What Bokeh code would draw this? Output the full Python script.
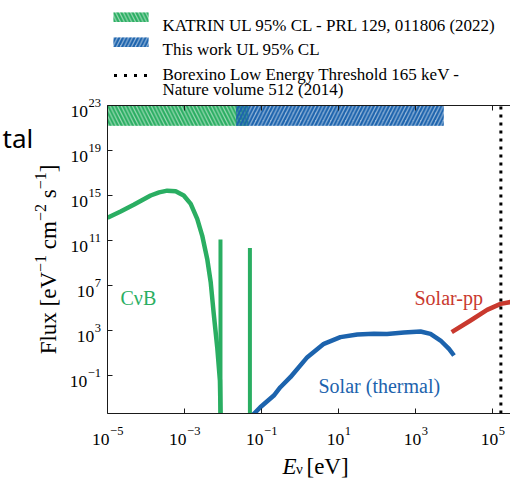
import math
from bokeh.plotting import figure
from bokeh.models import Range1d
from bokeh.core.properties import value
from bokeh.embed import file_html
from bokeh.resources import INLINE

# ---------------- data ----------------
cnub_E = [1.0e-5, 2.19e-5, 4.79e-5, 1.32e-4, 2.19e-4, 3.55e-4, 5.89e-4, 9.55e-4, 1.45e-3,
          2.14e-3, 2.88e-3, 3.89e-3, 4.79e-3, 5.75e-3, 7.08e-3, 8.32e-3, 8.7e-3]
cnub_flux = [1.05e13, 3.8e13, 1.48e14, 1.0e15, 1.9e15, 2.7e15, 2.4e15, 1.0e15, 1.8e14,
             8.5e12, 2.75e11, 2.3e9, 2.0e7, 3.0e4, 33.0, 0.036, 1e-5]
cnub_line_E = [8.6e-3, 5.0e-2]
cnub_line_top = [1.26e11, 2.2e10]

thermal_E = [6.0e-2, 9.3e-2, 0.209, 0.309, 0.562, 1.55, 4.17, 11.2, 30.9, 83.2,
             182.0, 501.0, 1350.0, 2450.0, 4470.0, 7410.0, 1.0e4]
thermal_flux = [3.2e-5, 1.5e-4, 1.66e-3, 9.1e-3, 7.1e-2, 4.3, 66.0, 257.0, 437.0, 525.0,
                501.0, 661.0, 813.0, 501.0, 129.0, 23.4, 6.0]

pp_E = [8710.0, 2.69e4, 7.24e4, 1.62e5, 3.16e5]
pp_flux = [708.0, 7760.0, 6.9e4, 2.34e5, 3.55e5]

katrin_E = [1.0e-5, 0.046]
katrin_flux = [1.6e21, 1.0e23]
this_work_E = [0.022, 5.4e3]
this_work_flux = [1.6e21, 1.0e23]

borexino_threshold_E = 165e3

x_ticks = [1e-5, 1e-3, 1e-1, 1e1, 1e3, 1e5]
x_tick_exponents = ["\u22125", "\u22123", "\u22121", "1", "3", "5"]
y_ticks = [1e-1, 1e3, 1e7, 1e11, 1e15, 1e19, 1e23]
y_tick_exponents = ["\u22121", "3", "7", "11", "15", "19", "23"]
x_lim = [1e-5, 2.934e5]
y_lim = [4.2e-5, 1e23]

legend_labels = ["KATRIN UL 95% CL - PRL 129, 011806 (2022)",
                 "This work UL 95% CL",
                 "Borexino Low Energy Threshold 165 keV -",
                 "Nature volume 512 (2014)"]

GREEN = "#2aae62"
BLUE = "#1c63ad"
RED = "#c9392e"
SERIF = "Liberation Serif"

# ---------------- geometry (pixels) ----------------
W, H = 510, 479
PL, PT, PB = 107, 105, 413          # plot-area edges; right edge = W
lx0, lx1 = math.log10(x_lim[0]), math.log10(x_lim[1])
ly0, ly1 = math.log10(y_lim[0]), math.log10(y_lim[1])
xppd = (W - PL) / (lx1 - lx0)
yppd = (PB - PT) / (ly1 - ly0)
X0 = 10 ** (lx0 - PL / xppd)
Y1 = 10 ** (ly1 + PT / yppd)
Y0 = 10 ** (ly0 - (H - PB) / yppd)


def X(px):
    return 10 ** (lx0 + (px - PL) / xppd)


def Y(py):
    return 10 ** (ly1 - (py - PT) / yppd)


def dx(v, px):
    return v * 10 ** (px / xppd)


def dy(v, px):  # px > 0 moves down
    return v * 10 ** (-px / yppd)


TIMES_W = {'F': .556, 'l': .278, 'u': .5, 'x': .5, ' ': .25, '[': .333, 'e': .444, 'V': .722,
           'c': .444, 'm': .778, 's': .389, ']': .333, '\u2212': .564}


def tw(s, size):
    return sum(TIMES_W.get(ch, .5) for ch in s) * size


p = figure(width=W, height=H, output_backend="svg", toolbar_location=None, title=None,
           x_axis_type="log", y_axis_type="log", x_axis_location=None, y_axis_location=None,
           x_range=Range1d(X0, x_lim[1]), y_range=Range1d(Y0, Y1),
           min_border=0, outline_line_color=None, background_fill_color="white",
           border_fill_color="white")
p.grid.visible = False

# ---- hatched upper-limit bands ----
band_kw = dict(fill_alpha=0.45, line_color=None, hatch_scale=7.5, hatch_weight=2.2)
p.quad(left=[katrin_E[0]], right=[katrin_E[1]], bottom=[katrin_flux[0]], top=[katrin_flux[1]],
       fill_color=GREEN, hatch_pattern="left_diagonal_line", hatch_color=GREEN, **band_kw)
p.quad(left=[this_work_E[0]], right=[this_work_E[1]], bottom=[this_work_flux[0]],
       top=[this_work_flux[1]], fill_color=BLUE, hatch_pattern="right_diagonal_line",
       hatch_color=BLUE, **band_kw)

# ---- spectra ----
p.line(cnub_E, cnub_flux, line_color=GREEN, line_width=4.5, line_join="round")
p.segment(x0=cnub_line_E, y0=[y_lim[0]] * len(cnub_line_E), x1=cnub_line_E, y1=cnub_line_top,
          line_color=GREEN, line_width=4)
p.line(thermal_E, thermal_flux, line_color=BLUE, line_width=4.5, line_join="round")
p.line(pp_E, pp_flux, line_color=RED, line_width=4.5, line_join="round")
p.segment(x0=[borexino_threshold_E], y0=[y_lim[0]], x1=[borexino_threshold_E], y1=[y_lim[1]],
          line_color="black", line_width=3, line_dash="3 5")

# ---- white masks outside the plot area (clipping) ----
p.quad(left=[X0, X0, X0], right=[x_lim[0], x_lim[1], x_lim[1]],
       bottom=[Y0, Y0, y_lim[1]], top=[Y1, y_lim[0], Y1],
       fill_color="white", line_color=None)

# ---- axes frame (left, bottom, top) ----
AX = "#1a1a1a"
p.segment(x0=[x_lim[0], x_lim[0], x_lim[0]], y0=[y_lim[0], y_lim[0], y_lim[1]],
          x1=[x_lim[0], x_lim[1], x_lim[1]], y1=[y_lim[1], y_lim[0], y_lim[1]],
          line_color=AX, line_width=1)
# inward ticks
p.segment(x0=x_ticks, y0=[y_lim[0]] * len(x_ticks), x1=x_ticks,
          y1=[dy(y_lim[0], -5)] * len(x_ticks), line_color=AX, line_width=1)
p.segment(x0=x_ticks, y0=[y_lim[1]] * len(x_ticks), x1=x_ticks,
          y1=[dy(y_lim[1], 5)] * len(x_ticks), line_color=AX, line_width=1)
p.segment(x0=[x_lim[0]] * len(y_ticks), y0=y_ticks, x1=[dx(x_lim[0], 5)] * len(y_ticks),
          y1=y_ticks, line_color=AX, line_width=1)

# ---- tick labels 10^n ----
BASE_FS, EXP_FS = 17.5, 12.5
base_w = tw("10", BASE_FS)
xb_x, xe_x = [], []
for t, e in zip(x_ticks, x_tick_exponents):
    total = base_w + tw(e, EXP_FS)
    xb_x.append(dx(t, -total / 2 + base_w))
    xe_x.append(dx(t, -total / 2 + base_w + 0.5))
p.text(x=xb_x, y=[dy(y_lim[0], 25.5)] * len(x_ticks), text=["10"] * len(x_ticks),
       text_font=value(SERIF), text_font_size=f"{BASE_FS}px", text_align="right",
       text_baseline="alphabetic", text_color="black")
p.text(x=xe_x, y=[dy(y_lim[0], 17.5)] * len(x_ticks), text=x_tick_exponents,
       text_font=value(SERIF), text_font_size=f"{EXP_FS}px", text_align="left",
       text_baseline="alphabetic", text_color="black")

yb_x = [dx(x_lim[0], -(6.5 + tw(e, EXP_FS) + 0.5)) for e in y_tick_exponents]
p.text(x=yb_x, y=[dy(t, 5.5) for t in y_ticks], text=["10"] * len(y_ticks),
       text_font=value(SERIF), text_font_size=f"{BASE_FS}px", text_align="right",
       text_baseline="alphabetic", text_color="black")
p.text(x=[dx(x_lim[0], -6.5)] * len(y_ticks), y=[dy(t, -2.5) for t in y_ticks],
       text=y_tick_exponents, text_font=value(SERIF), text_font_size=f"{EXP_FS}px",
       text_align="right", text_baseline="alphabetic", text_color="black")

# ---- y axis label (rotated, with real superscripts) ----
YL_FS, YL_EXP_FS = 23, 16
pieces = [("Flux [eV", False), ("\u22121", True), (" cm", False), ("\u22122", True),
          (" s", False), ("\u22121", True), ("]", False)]
widths = [tw(s, YL_EXP_FS if sup else YL_FS) for s, sup in pieces]
cur = (PT + PB) / 2 + sum(widths) / 2
for (s, sup), w in zip(pieces, widths):
    fs = YL_EXP_FS if sup else YL_FS
    lead = tw(s[:len(s) - len(s.lstrip())], fs)
    p.text(x=[X(39.5 if sup else 47.5)], y=[Y(cur - lead)], text=[s.lstrip()],
           angle=math.pi / 2, text_font=value(SERIF), text_font_size=f"{fs}px",
           text_align="left", text_baseline="alphabetic", text_color="black")
    cur -= w

# ---- x axis label: E_nu [eV] ----
p.text(x=[X(282)], y=[Y(465.5)], text=["E"], text_font=value(SERIF), text_font_size="23px",
       text_font_style="italic", text_align="left", text_baseline="alphabetic", text_color="black")
p.text(x=[X(295.5)], y=[Y(468.5)], text=["\u03bd"], text_font=value(SERIF),
       text_font_size="15px", text_align="left", text_baseline="alphabetic", text_color="black")
p.text(x=[X(306)], y=[Y(465.5)], text=["[eV]"], text_font=value(SERIF), text_font_size="23px",
       text_align="left", text_baseline="alphabetic", text_color="black")

# ---- curve annotations ----
p.text(x=[X(120)], y=[Y(297)], text=["C\u03bdB"], text_font=value(SERIF), text_font_size="20px",
       text_color=GREEN, text_align="left", text_baseline="alphabetic")
p.text(x=[X(414)], y=[Y(297)], text=["Solar-pp"], text_font=value(SERIF), text_font_size="20px",
       text_color=RED, text_align="left", text_baseline="alphabetic")
p.text(x=[X(318)], y=[Y(385.5)], text=["Solar (thermal)"], text_font=value(SERIF),
       text_font_size="20px", text_color=BLUE, text_align="left", text_baseline="alphabetic")

# ---- legend (above the plot area) ----
p.quad(left=[X(113)], right=[X(148)], top=[Y(12)], bottom=[Y(21.5)], fill_color=GREEN,
       hatch_pattern="left_diagonal_line", hatch_color=GREEN, **band_kw)
p.quad(left=[X(113)], right=[X(148)], top=[Y(37)], bottom=[Y(46.5)], fill_color=BLUE,
       hatch_pattern="right_diagonal_line", hatch_color=BLUE, **band_kw)
p.segment(x0=[X(113.5)], y0=[Y(75)], x1=[X(148)], y1=[Y(75)], line_color="black",
          line_width=3, line_dash="3 7")
p.text(x=[X(162)] * 4, y=[Y(24.5), Y(48.5), Y(73.5), Y(88.5)], text=legend_labels,
       text_font=value(SERIF), text_font_size="17px", text_align="left",
       text_baseline="alphabetic", text_color="black")

# ---- fragment of a neighbouring panel's title ----
p.text(x=[X(2)], y=[Y(137)], text=["tal"], text_font=value("Noto Sans"), text_font_size="26px",
       text_align="left", text_baseline="alphabetic", text_color="black")

open("out.html", "w").write(file_html(p, INLINE))
